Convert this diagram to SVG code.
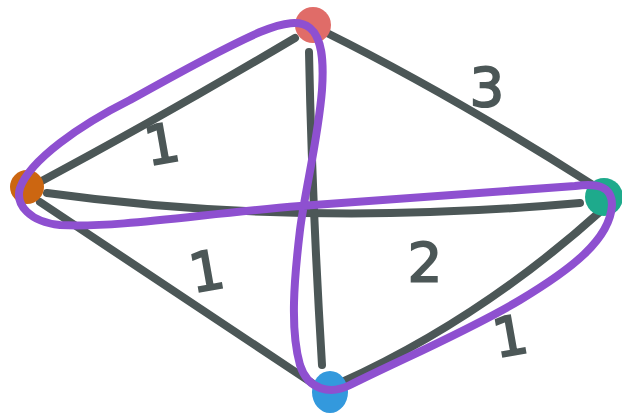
<svg xmlns="http://www.w3.org/2000/svg" width="622" height="415" viewBox="0 0 622 415">
<style>
.edge{fill:none;stroke:#4c5757;stroke-width:8;stroke-linecap:round;stroke-linejoin:round}
.loop{fill:none;stroke:#8e50d0;stroke-width:8;stroke-linecap:round;stroke-linejoin:round}
.lbl{font-family:"DejaVu Sans",sans-serif;font-size:54px;fill:#4c5757;stroke:#4c5757;stroke-width:2;text-anchor:middle}
</style>
<rect width="622" height="415" fill="#ffffff"/>
<g id="connectors">
<path class="edge" d="M38,183 Q160,118 295,38"/>
<path class="edge" d="M325,32 Q450,94 593,185"/>
<path class="edge" d="M309,52 Q312,200 322,365"/>
<path class="edge" d="M47,193 Q300,228 580,203"/>
<path class="edge" d="M40,202 Q180,295 312,383"/>
<path class="edge" d="M340,383 Q480,320 602,210"/>
</g>
<g id="nodes">
<g id="node-red"><circle cx="313" cy="25" r="18" fill="#e06c68"/></g>
<g id="node-orange"><circle cx="27" cy="187" r="17" fill="#cc6611"/></g>
<g id="node-teal"><circle cx="604" cy="197" r="19" fill="#1eaa8c"/></g>
<g id="node-blue"><ellipse cx="330" cy="392" rx="18" ry="21" fill="#3399dd"/></g>
</g>
<g id="loop">
<path class="loop" d="M260,32 C285,22 300,20 310,28 C322,38 324,60 322,90 C318,140 305,190 300,230 C294,280 290,330 300,365 C308,390 330,395 350,385 C400,360 470,330 520,300 C570,270 610,240 612,205 C612,185 595,183 575,186 C500,192 400,198 300,206 C200,214 120,228 60,225 C30,222 15,205 20,188 C30,160 80,125 130,100 C180,72 230,45 260,32 Z"/>
</g>
<g id="labels">
<text class="lbl" x="162" y="163" transform="rotate(-10 162 144)">1</text>
<text class="lbl" x="487" y="106">3</text>
<text class="lbl" x="206" y="290" transform="rotate(-10 206 268)">1</text>
<text class="lbl" x="425" y="281">2</text>
<text class="lbl" x="510" y="355" transform="rotate(-10 510 335)">1</text>
</g>
</svg>
